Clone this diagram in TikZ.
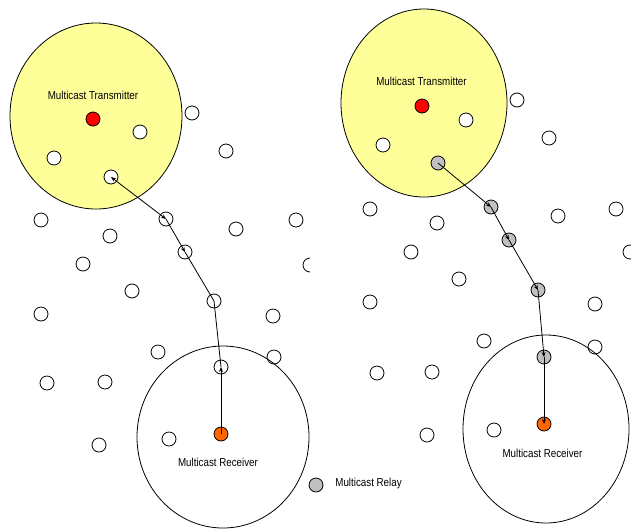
\documentclass[tikz,border=0pt]{standalone}
\usepackage{fontspec}
\setmainfont[FakeStretch=0.85]{Liberation Sans}
\usetikzlibrary{arrows.meta}
\definecolor{zoneyellow}{HTML}{FFFF99}
\definecolor{recvorange}{HTML}{FF6600}
\definecolor{relaygray}{HTML}{C0C0C0}
\def\hostnode{\node[circle,draw=black,fill=white,minimum size=14pt,inner sep=0pt]}
\def\relaynode{\node[circle,draw=black,fill=relaygray,minimum size=14pt,inner sep=0pt]}
\def\srcnode{\node[circle,draw=black,fill=red,minimum size=14pt,inner sep=0pt]}
\def\dstnode{\node[circle,draw=black,fill=recvorange,minimum size=14pt,inner sep=0pt]}
\def\drawhop{\draw[-{Stealth[length=5pt,width=4pt]}]}
\def\labeltext{\fontsize{11.5}{13}\selectfont}

\begin{document}
\begin{tikzpicture}[x=1pt,y=-1pt,line width=0.8pt]
\useasboundingbox (0,0) rectangle (631,528);
% left: route found without relays
\begin{scope}
\clip (0,0) rectangle (310,528);
\draw[fill=zoneyellow] (96,116) ellipse [x radius=86, y radius=93];
\node (ltxlabel) at (93,95) {\labeltext Multicast Transmitter};
\srcnode (ltx) at (93,119) {};
\foreach \px/\py [count=\i] in {140/132, 54/158, 192/113, 226/151, 41/220, 110/236,
  236/229, 296/220, 83/264, 310/265, 132/291, 41/314, 273/316, 158/352, 274/357,
  47/383, 105/382, 99/445, 169/439}
  \hostnode (lh\i) at (\px,\py) {};
\hostnode (lA) at (111,177) {};
\hostnode (lB) at (166,219) {};
\hostnode (lC) at (185,252) {};
\hostnode (lD) at (214,301) {};
\hostnode (lE) at (221,367) {};
\draw (223,437) ellipse [x radius=86, y radius=91];
\dstnode (lrx) at (221,434) {};
\node (lrxlabel) at (218,462) {\labeltext Multicast Receiver};
\draw[{Stealth[length=5pt,width=4pt]}-{Stealth[length=5pt,width=4pt]}] (lA.center) -- (lB.center);
\drawhop (lB.center) -- (lC.center);
\draw (lC.center) -- (lD.center) -- (lE.center);
\drawhop (lrx.center) -- (lE.center);
\end{scope}
% right: route through relays
\draw[fill=zoneyellow] (424,103) ellipse [x radius=83, y radius=94];
\node (rtxlabel) at (421.5,81) {\labeltext Multicast Transmitter};
\srcnode (rtx) at (422,106) {};
\foreach \px/\py [count=\i] in {466/120, 383/145, 517/100, 549/138, 370/209, 437/223,
  558/216, 616/209, 411/252, 630/252, 459/279, 370/302, 595/304, 484/341, 595/347,
  377/373, 432/372, 427/435, 494/430}
  \hostnode (rh\i) at (\px,\py) {};
\relaynode (rA) at (438,163) {};
\relaynode (rB) at (491,207) {};
\relaynode (rC) at (509,240) {};
\relaynode (rD) at (538,290) {};
\relaynode (rE) at (544,357) {};
\draw (546,429) ellipse [x radius=83, y radius=94];
\dstnode (rrx) at (544,424) {};
\node (rrxlabel) at (542.5,453) {\labeltext Multicast Receiver};
\drawhop (rA.center) -- (rB.center);
\drawhop (rB.center) -- (rC.center);
\drawhop (rC.center) -- (rD.center);
\drawhop (rD.center) -- (rE.center);
\drawhop (rE.center) -- (rrx.center);
% legend
\relaynode (keyrelay) at (316,485) {};
\node[anchor=west,inner sep=0pt] (keytext) at (335,484) {\labeltext Multicast Relay};
\end{tikzpicture}
\end{document}
